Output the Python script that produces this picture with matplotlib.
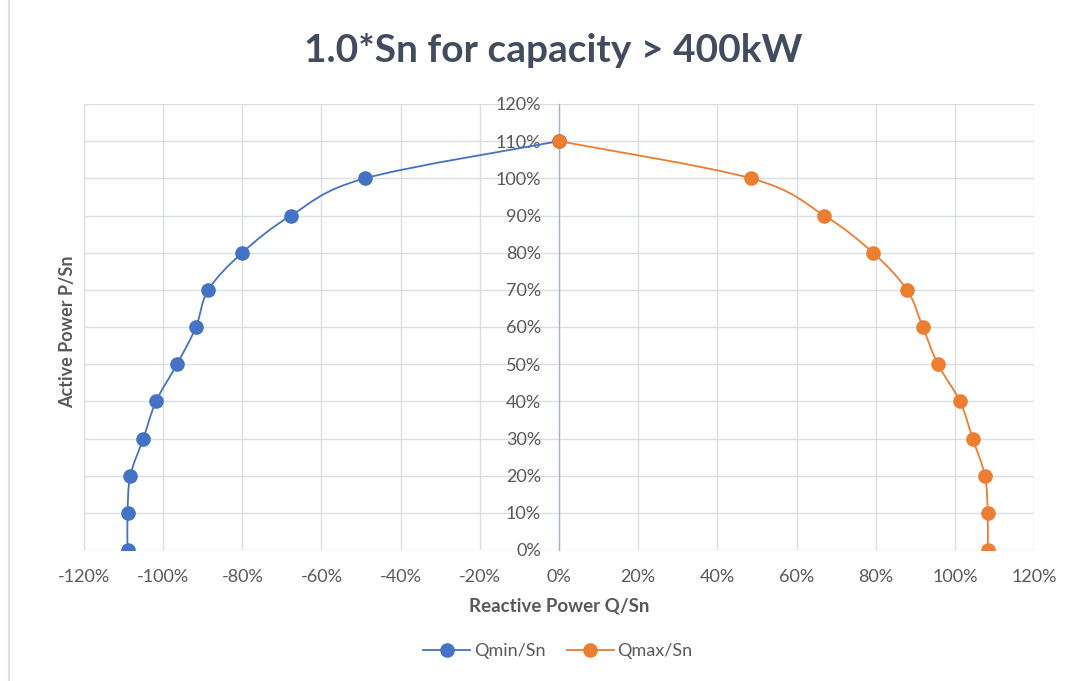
import numpy as np
import matplotlib
matplotlib.use("Agg")
import matplotlib.pyplot as plt
from matplotlib.path import Path
from matplotlib.patches import PathPatch
from matplotlib.lines import Line2D
from matplotlib.ticker import FuncFormatter, MultipleLocator

plt.rcParams['font.family'] = ['Lato', 'DejaVu Sans']

# Data (fractions of Sn)
p_levels = [1.10, 1.00, 0.90, 0.80, 0.70, 0.60, 0.50, 0.40, 0.30, 0.20, 0.10, 0.00]
q_min = [0.00, -0.49, -0.677, -0.80, -0.886, -0.917, -0.965, -1.018, -1.05, -1.083, -1.09, -1.09]
q_max = [0.00, 0.485, 0.67, 0.793, 0.879, 0.919, 0.957, 1.013, 1.045, 1.076, 1.083, 1.083]
series_names = ['Qmin/Sn', 'Qmax/Sn']
colors = ['#4472C4', '#ED7D31']

W, H = 1088, 681
fig = plt.figure(figsize=(W / 100, H / 100), dpi=100)
ax = fig.add_axes([84 / W, 1 - 550 / H, (1034 - 84) / W, (550 - 104) / H])


def smooth_path(xs, ys):
    xs = np.asarray(xs, float)
    ys = np.asarray(ys, float)
    pts = np.column_stack([xs, ys])
    n = len(pts)
    verts = [pts[0]]
    codes = [Path.MOVETO]
    for i in range(n - 1):
        p0 = pts[i - 1] if i > 0 else pts[i]
        p1 = pts[i]
        p2 = pts[i + 1]
        p3 = pts[i + 2] if i + 2 < n else pts[i + 1]
        c1 = p1 + (p2 - p0) / 6.0
        c2 = p2 - (p3 - p1) / 6.0
        verts += [c1, c2, p2]
        codes += [Path.CURVE4] * 3
    return Path(verts, codes)


handles = []
for qs, name, col in zip([q_min, q_max], series_names, colors):
    patch = PathPatch(smooth_path(qs, p_levels), facecolor='none', edgecolor=col,
                      lw=1.3, zorder=3)
    ax.add_patch(patch)
    ax.plot(qs, p_levels, linestyle='none', marker='o', markersize=9.5,
            color=col, zorder=4)
    handles.append(Line2D([0], [0], color=col, lw=1.3, marker='o', markersize=9.5))

ax.set_xlim(-1.2, 1.2)
ax.set_ylim(0, 1.2)
ax.xaxis.set_major_locator(MultipleLocator(0.2))
ax.yaxis.set_major_locator(MultipleLocator(0.1))
pct = FuncFormatter(lambda v, _: f"{round(v * 100):d}%")
ax.xaxis.set_major_formatter(pct)
ax.yaxis.set_major_formatter(pct)

ax.grid(True, color='#D9DDE6', lw=1.0, zorder=0)
ax.set_axisbelow(True)
for s in ['top', 'right', 'bottom']:
    ax.spines[s].set_visible(False)
ax.spines['left'].set_position(('data', 0))
ax.spines['left'].set_color('#A9B4C8')
ax.spines['left'].set_linewidth(1.0)
ax.spines['left'].set_zorder(2)

tick_col = '#595959'
ax.tick_params(axis='y', length=0, pad=13, labelsize=13, labelcolor=tick_col)
ax.tick_params(axis='x', length=0, pad=14, labelsize=13, labelcolor=tick_col)

ax.set_xlabel('Reactive Power Q/Sn', fontsize=13.5, fontweight='bold',
              color=tick_col, labelpad=9)
fig.text(68 / W, 1 - 332 / H, 'Active Power P/Sn', rotation=90, fontsize=13,
         fontweight='bold', color=tick_col, ha='center', va='center')

fig.text(553 / W, 1 - 50 / H, '1.0*Sn for capacity > 400kW', fontsize=28,
         fontweight='bold', color='#414C5E', ha='center', va='center')

fig.legend(handles, series_names, loc='center', bbox_to_anchor=(558 / W, 1 - 651 / H),
           ncol=2, frameon=False, fontsize=13, labelcolor=tick_col,
           handlelength=2.6, columnspacing=1.2, handletextpad=0.2)

fig.add_artist(Line2D([8.5 / W, 8.5 / W], [0, 1], color='#DCE0E8', lw=1.5))

fig.savefig('out.png', dpi=100, facecolor='white')
